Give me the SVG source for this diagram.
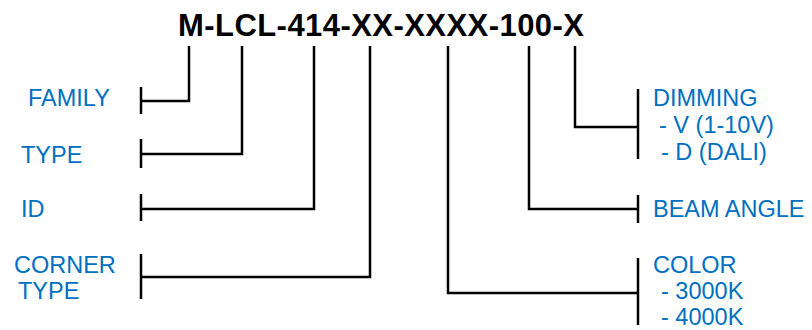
<svg xmlns="http://www.w3.org/2000/svg" width="812" height="330" viewBox="0 0 812 330">
<style>
.lbl{font-family:"Liberation Sans",Arial,sans-serif;font-size:23.5px;fill:#0070C0}
.title{font-family:"Liberation Sans",Arial,sans-serif;font-size:31px;font-weight:bold;fill:#000}
.ln{fill:none;stroke:#000;stroke-width:2.5;stroke-linejoin:miter}
</style>
<rect width="812" height="330" fill="#fff"/>
<g id="title"><text class="title" x="178" y="36" textLength="406">M-LCL-414-XX-XXXX-100-X</text></g>
<g id="family"><text class="lbl" x="28" y="106">FAMILY</text><line class="ln" x1="141" y1="87" x2="141" y2="114"/></g>
<g id="type"><text class="lbl" x="21" y="163">TYPE</text><line class="ln" x1="141" y1="139" x2="141" y2="168"/></g>
<g id="id"><text class="lbl" x="21" y="217">ID</text><line class="ln" x1="141" y1="194" x2="141" y2="221"/></g>
<g id="corner"><text class="lbl" x="14" y="273">CORNER</text><text class="lbl" x="18" y="299">TYPE</text><line class="ln" x1="141" y1="254" x2="141" y2="299"/></g>
<g id="dimming"><text class="lbl" x="653" y="106">DIMMING</text><text class="lbl" x="659" y="133">- V (1-10V)</text><text class="lbl" x="661" y="160">- D (DALI)</text><line class="ln" x1="638" y1="89" x2="638" y2="159"/></g>
<g id="beam"><text class="lbl" x="653" y="217">BEAM ANGLE</text><line class="ln" x1="638" y1="195" x2="638" y2="223"/></g>
<g id="color"><text class="lbl" x="653" y="273">COLOR</text><text class="lbl" x="661" y="299">- 3000K</text><text class="lbl" x="661" y="325">- 4000K</text><line class="ln" x1="638" y1="258" x2="638" y2="325"/></g>
<g id="connectors">
<path class="ln" d="M189,46 V101 H141"/>
<path class="ln" d="M242,46 V154 H141"/>
<path class="ln" d="M314,46 V209 H141"/>
<path class="ln" d="M370,46 V277 H141"/>
<path class="ln" d="M448,46 V293 H638"/>
<path class="ln" d="M529,46 V209 H638"/>
<path class="ln" d="M575,46 V127 H638"/>
</g>
</svg>
